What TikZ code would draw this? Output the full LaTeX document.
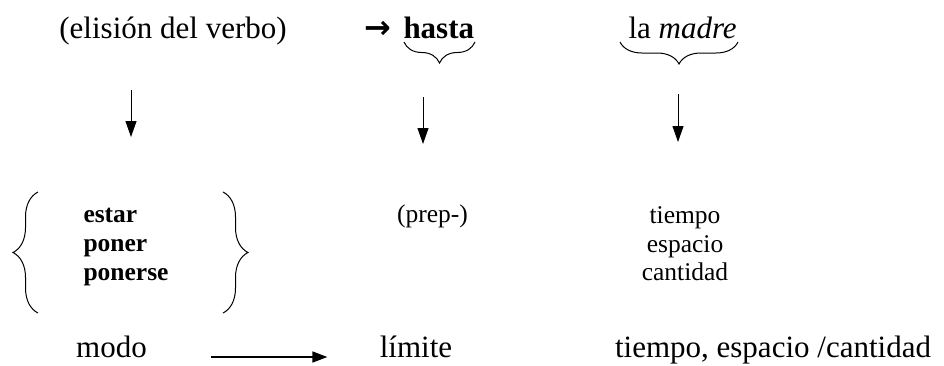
\documentclass[tikz,border=0pt]{standalone}
\usepackage{fontspec}
\setmainfont{Liberation Serif}
\newfontfamily\symfont{DejaVu Sans}
\usetikzlibrary{arrows.meta,decorations.pathreplacing}

\begin{document}
\begin{tikzpicture}[x=1pt, y=-1pt, line width=1pt,
    word/.style = {inner sep=0pt, anchor=base, font=\fontsize{#1}{#1}\selectfont},
    down/.style = {-{Triangle[length=16pt,width=11pt]}},
    curly/.style = {decorate, decoration={brace, amplitude=#1}}]
    \useasboundingbox (0,0) rectangle (944,365);
    % top line
    \node[word=31] (elis) at (173,38) {(elisión del verbo)};
    \node[word=32, anchor=base west] (flecha) at (364,38) {\symfont\bfseries →};
    \node[word=31, anchor=base west] (hasta) at (403,38) {\textbf{hasta}};
    \node[word=31, anchor=base west] (madre) at (628,38) {la \textit{madre}};
    \draw[curly=21pt] (475,42) -- (404,42);
    \draw[curly=22pt] (738,42) -- (620,42);
    % down arrows
    \coordinate (v1a) at (131,90);  \coordinate (v1b) at (131,137);
    \coordinate (v2a) at (423,97);  \coordinate (v2b) at (423,144);
    \coordinate (v3a) at (678,94);  \coordinate (v3b) at (678,142);
    \draw[down] (v1a) -- (v1b);
    \draw[down] (v2a) -- (v2b);
    \draw[down] (v3a) -- (v3b);
    % middle
    \draw[curly=25pt] (38,313) -- (38,192);
    \draw[curly=25pt] (223,192) -- (223,313);
    \foreach \w/\y in {estar/222, poner/251, ponerse/280}
        \node[word=25.5, anchor=base west, font=\fontsize{25.5}{29}\selectfont\bfseries] (v-\w) at (83,\y) {\w};
    \node[word=25.5] (prep) at (432.5,222) {(prep-)};
    \foreach \w/\y in {tiempo/223, espacio/252, cantidad/280}
        \node[word=25.5] (m-\w) at (685,\y) {\w};
    % bottom line
    \node[word=31] (modo) at (111.5,357) {modo};
    \node[word=31] (limite) at (416,357) {límite};
    \node[word=31] (tec) at (773,357) {tiempo, espacio /cantidad};
    \draw[line width=1.6pt, -{Triangle[length=15pt,width=11pt]}, shorten <=64pt, shorten >=52pt] (modo.base east) -- (limite.base west);
\end{tikzpicture}
\end{document}
